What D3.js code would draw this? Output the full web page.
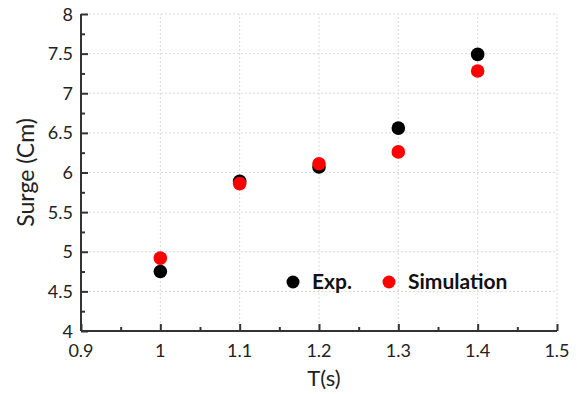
<!DOCTYPE html>
<html>
<head>
<meta charset="utf-8">
<script src="https://cdn.jsdelivr.net/npm/d3@7"></script>
<style>
  body { margin: 0; background: #fff; }
  svg { display: block; }
</style>
</head>
<body>
<script>
// data
const periods = [1.0, 1.1, 1.2, 1.3, 1.4];
const expSurge = [4.75, 5.89, 6.07, 6.56, 7.49];
const simSurge = [4.92, 5.86, 6.11, 6.26, 7.28];
const xTicks = [0.9, 1, 1.1, 1.2, 1.3, 1.4, 1.5];
const yTicks = [4, 4.5, 5, 5.5, 6, 6.5, 7, 7.5, 8];

const width = 578, height = 394;
const margin = { top: 14, right: 21, bottom: 63, left: 81 };

const svg = d3.select("body").append("svg")
    .attr("width", width)
    .attr("height", height);

const x = d3.scaleLinear().domain([0.9, 1.5]).range([margin.left, width - margin.right]);
const y = d3.scaleLinear().domain([4, 8]).range([height - margin.bottom, margin.top]);

// dotted grid
const grid = svg.append("g")
    .attr("stroke", "#d9d9d9")
    .attr("stroke-width", 1)
    .attr("stroke-dasharray", "2,2");
grid.selectAll("line.v")
  .data(xTicks.slice(1))
  .join("line")
    .attr("x1", d => x(d)).attr("x2", d => x(d))
    .attr("y1", y(4)).attr("y2", y(8));
grid.selectAll("line.h")
  .data(yTicks.slice(1))
  .join("line")
    .attr("x1", x(0.9)).attr("x2", x(1.5))
    .attr("y1", d => y(d)).attr("y2", d => y(d));

// axes: ticks point inwards
const axisColor = "#333";
const xAxis = svg.append("g")
    .attr("transform", `translate(0,${y(4)})`)
    .call(d3.axisTop(x).tickValues(d3.range(0.9, 1.5001, 0.05)).tickSize(4).tickFormat(""));
xAxis.selectAll(".tick line")
    .attr("y2", (d, i) => i % 2 === 0 ? -7 : -4);
xAxis.selectAll("line, path").attr("stroke", axisColor).attr("stroke-width", 2);
xAxis.select(".domain").attr("d", `M${x(0.9)},0H${x(1.5)}`);

const yAxis = svg.append("g")
    .attr("transform", `translate(${x(0.9)},0)`)
    .call(d3.axisRight(y).tickValues(d3.range(4, 8.001, 0.25)).tickSize(4).tickFormat(""));
yAxis.selectAll(".tick line")
    .attr("x2", (d, i) => i % 2 === 0 ? 7 : 4);
yAxis.selectAll("line, path").attr("stroke", axisColor).attr("stroke-width", 2);
yAxis.select(".domain").attr("d", `M0,${y(4)}V${y(8)}`);

// tick labels
const labelFont = "Lato, 'Open Sans', sans-serif";
svg.append("g")
  .selectAll("text")
  .data(xTicks)
  .join("text")
    .attr("x", d => x(d))
    .attr("y", y(4) + 26)
    .attr("text-anchor", "middle")
    .attr("font-family", labelFont)
    .attr("font-size", 18)
    .attr("fill", "#222")
    .text(d => d);

svg.append("g")
  .selectAll("text")
  .data(yTicks)
  .join("text")
    .attr("x", x(0.9) - 8)
    .attr("y", d => y(d) + 6.5)
    .attr("text-anchor", "end")
    .attr("font-family", labelFont)
    .attr("font-size", 18)
    .attr("fill", "#222")
    .text(d => d);

// axis titles
svg.append("text")
    .attr("x", (x(0.9) + x(1.5)) / 2 + 5)
    .attr("y", 386)
    .attr("text-anchor", "middle")
    .attr("font-family", labelFont)
    .attr("font-size", 22)
    .attr("fill", "#222")
    .text("T(s)");

svg.append("text")
    .attr("transform", `translate(34,${(y(4) + y(8)) / 2}) rotate(-90)`)
    .attr("text-anchor", "middle")
    .attr("font-family", labelFont)
    .attr("font-size", 23)
    .attr("fill", "#222")
    .text("Surge (Cm)");

// points
const series = [
  { name: "Exp.", values: expSurge, color: "#000" },
  { name: "Simulation", values: simSurge, color: "#ff0000" }
];

series.forEach(s => {
  svg.append("g")
    .selectAll("circle")
    .data(periods.map((p, i) => [p, s.values[i]]))
    .join("circle")
      .attr("cx", d => x(d[0]))
      .attr("cy", d => y(d[1]))
      .attr("r", 6.8)
      .attr("fill", s.color);
});

// legend
const legend = svg.append("g").attr("transform", "translate(293,282)");
const legendX = [0, 96];
series.forEach((s, i) => {
  legend.append("circle")
      .attr("cx", legendX[i])
      .attr("cy", 0)
      .attr("r", 6.5)
      .attr("fill", s.color);
  legend.append("text")
      .attr("x", legendX[i] + 19)
      .attr("y", 7)
      .attr("font-family", "Lato, sans-serif")
      .attr("font-weight", "bold")
      .attr("font-size", 21)
      .attr("fill", "#111")
      .text(s.name);
});
</script>
</body>
</html>
